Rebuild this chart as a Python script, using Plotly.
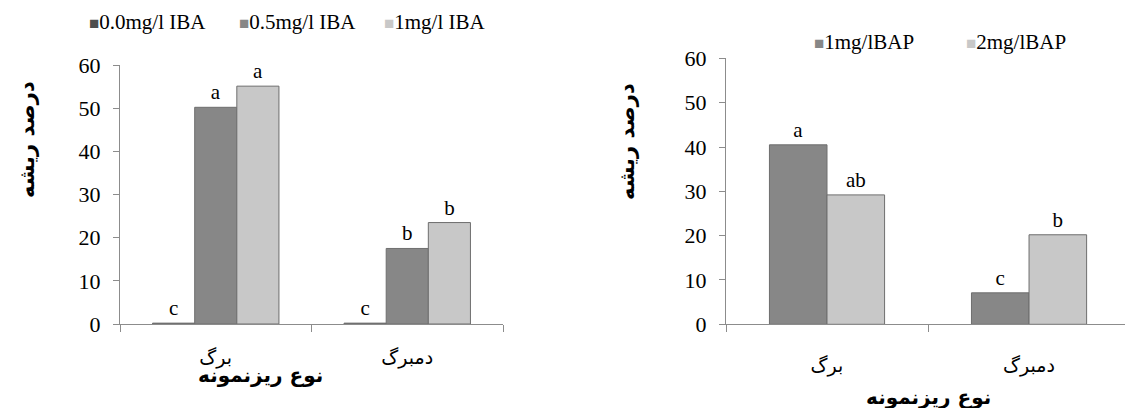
import plotly.graph_objects as go

# ---- data ----
explants = ["برگ", "دمبرگ"]

iba_names = ["0.0mg/l IBA", "0.5mg/l IBA", "1mg/l IBA"]
iba_00 = [0.2, 0.2]
iba_05 = [50.2, 17.5]
iba_10 = [55.1, 23.5]
iba_letters_00 = ["c", "c"]
iba_letters_05 = ["a", "b"]
iba_letters_10 = ["a", "b"]

bap_names = ["1mg/lBAP", "2mg/lBAP"]
bap_1 = [40.5, 7.1]
bap_2 = [29.2, 20.2]
bap_letters_1 = ["a", "c"]
bap_letters_2 = ["ab", "b"]

y_title = "درصد ریشه"
x_title = "نوع ریزنمونه"
y_ticks = [0, 10, 20, 30, 40, 50, 60]

# ---- styles ----
c_dark = "#4d4d4d"
c_mid = "#878787"
c_light = "#c8c8c8"
edge = "#6e6e6e"
axis_col = "#8c8c8c"
serif = "Liberation Serif, Times New Roman, serif"
arab = "DejaVu Sans, sans-serif"

W, H = 1125, 408

fig = go.Figure()

def add_bar(x, y, letters, color, name, xa, ya, width, offset):
    fig.add_trace(go.Bar(
        x=x, y=y, name=name, xaxis=xa, yaxis=ya,
        width=width, offset=offset,
        marker=dict(color=color, line=dict(color=edge, width=1)),
        text=letters, textposition="outside", cliponaxis=False,
        textfont=dict(family=serif, size=21, color="black"),
        showlegend=False,
    ))

lw = 0.22
add_bar(explants, iba_00, iba_letters_00, c_dark, iba_names[0], "x", "y", lw, -1.5 * lw)
add_bar(explants, iba_05, iba_letters_05, c_mid, iba_names[1], "x", "y", lw, -0.5 * lw)
add_bar(explants, iba_10, iba_letters_10, c_light, iba_names[2], "x", "y", lw, 0.5 * lw)

rw = 0.285
add_bar(explants, bap_1, bap_letters_1, c_mid, bap_names[0], "x2", "y2", rw, -rw)
add_bar(explants, bap_2, bap_letters_2, c_light, bap_names[1], "x2", "y2", rw, 0)

xcommon = dict(
    type="category", showline=True, linecolor=axis_col, linewidth=1,
    ticks="outside", ticklen=7, tickcolor=axis_col, tickson="boundaries",
    showgrid=False, zeroline=False, automargin=False,
    tickfont=dict(family=arab, size=19, color="black"),
)
ycommon = dict(
    range=[0, 60], tickvals=y_ticks, showline=True, linecolor=axis_col,
    linewidth=1, ticks="outside", ticklen=6, tickcolor=axis_col,
    showgrid=False, zeroline=False, automargin=False, ticklabelstandoff=8,
    tickfont=dict(family=serif, size=22, color="black"),
)

fig.update_layout(
    width=W, height=H,
    margin=dict(l=0, r=0, t=0, b=0, autoexpand=False),
    paper_bgcolor="white", plot_bgcolor="white",
    barmode="overlay",
    xaxis=dict(**xcommon, domain=[120 / W, 503 / W], range=[-0.5, 1.5],
               anchor="y", ticklabelstandoff=16),
    yaxis=dict(**ycommon, domain=[1 - 324 / H, 1 - 65 / H], anchor="x"),
    xaxis2=dict(**xcommon, domain=[726 / W, 1.0], range=[-0.5, 1.475],
                anchor="y2", ticklabelstandoff=24),
    yaxis2=dict(**ycommon, domain=[1 - 324.3 / H, 1 - 58.4 / H], anchor="x2"),
)

ann = []

def title_ann(text, xpx, ypx, size, angle=0):
    ann.append(dict(text=f"<b>{text}</b>", x=xpx / W, y=1 - ypx / H,
                    xref="paper", yref="paper", xanchor="center",
                    yanchor="middle", textangle=angle, showarrow=False,
                    font=dict(family=arab, size=size, color="black")))

# axis titles
title_ann(y_title, 27, 140, 21, -90)
title_ann(y_title, 627, 142, 21, -90)
title_ann(x_title, 260, 375, 20)
title_ann(x_title, 928, 397, 20)

# legends
def legend_item(name, color, xpx, ypx):
    ann.append(dict(
        text=f'<span style="font-size:17px;color:{color}">■</span>{name}',
        x=xpx / W, y=1 - ypx / H, xref="paper", yref="paper",
        xanchor="left", yanchor="middle", showarrow=False,
        font=dict(family=serif, size=21, color="black")))

legend_item(iba_names[0], c_dark, 87, 22)
legend_item(iba_names[1], c_mid, 237, 22)
legend_item(iba_names[2], c_light, 382, 22)
legend_item(bap_names[0], c_mid, 812, 42)
legend_item(bap_names[1], c_light, 964, 42)

fig.update_layout(annotations=ann)

fig.write_html(
    "out.html",
    config={"displayModeBar": False},
    post_script="document.body.style.margin='0';document.body.style.padding='0';",
)
